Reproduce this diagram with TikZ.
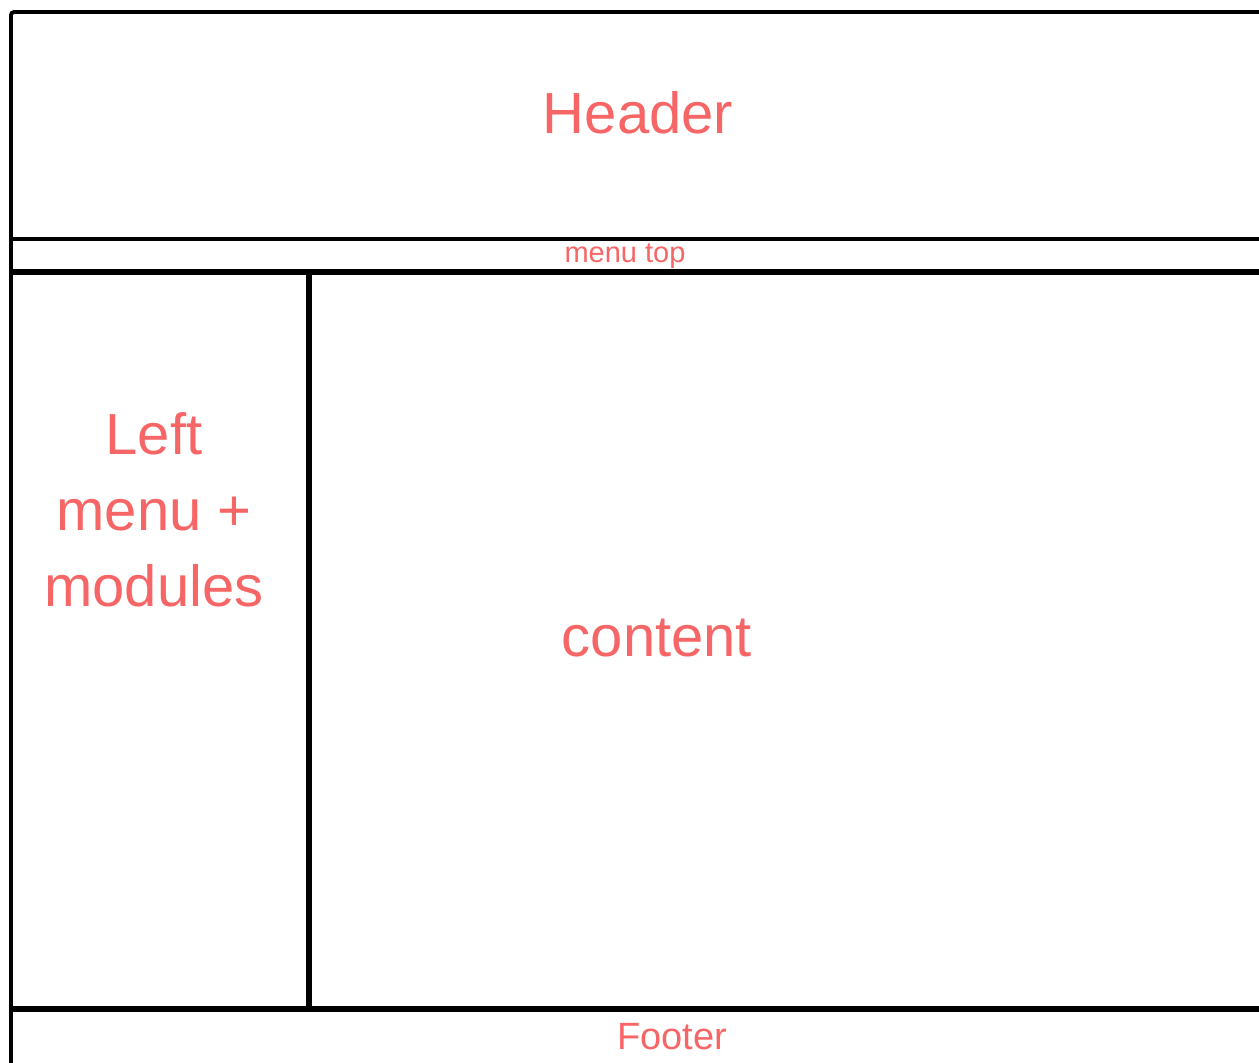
\documentclass[tikz,border=0pt]{standalone}
\usepackage{fontspec}
\setmainfont{Liberation Sans}
\usepackage{tikz}
\usetikzlibrary{positioning}
\definecolor{labelred}{RGB}{246,102,102}

\begin{document}
\begin{tikzpicture}[
    x=1pt, y=-1pt,
    frame/.style={draw=black, line width=3.8pt},
    heavy/.style={draw=black, line width=6.5pt},
    label/.style={text=labelred, inner sep=0pt, anchor=base},
]
\useasboundingbox (0,0) rectangle (1259,1063);

% Frame
\draw[frame, rounded corners=3pt] (1259,12) -- (11,12) -- (11,1063);
\draw[frame] (11,239) -- (1259,239);
\draw[heavy] (11,272) -- (1259,272);
\draw[heavy] (309,272) -- (309,1009);
\draw[line width=5.5pt] (11,1009) -- (1259,1009);

% Labels
\node[label, font=\fontsize{58}{68}\selectfont] (header) at (638,133) {Header};
\node[label, font=\fontsize{29}{34}\selectfont] (menutop) at (625,262) {menu top};
\node[label, font=\fontsize{58}{76}\selectfont, align=center, anchor=center] (leftmenu) at (154,510) {Left\\menu +\\modules};
\node[label, font=\fontsize{58}{68}\selectfont] (content) at (657,656) {content};
\node[label, font=\fontsize{38}{46}\selectfont] (footer) at (672,1049) {Footer};

\end{tikzpicture}
\end{document}
